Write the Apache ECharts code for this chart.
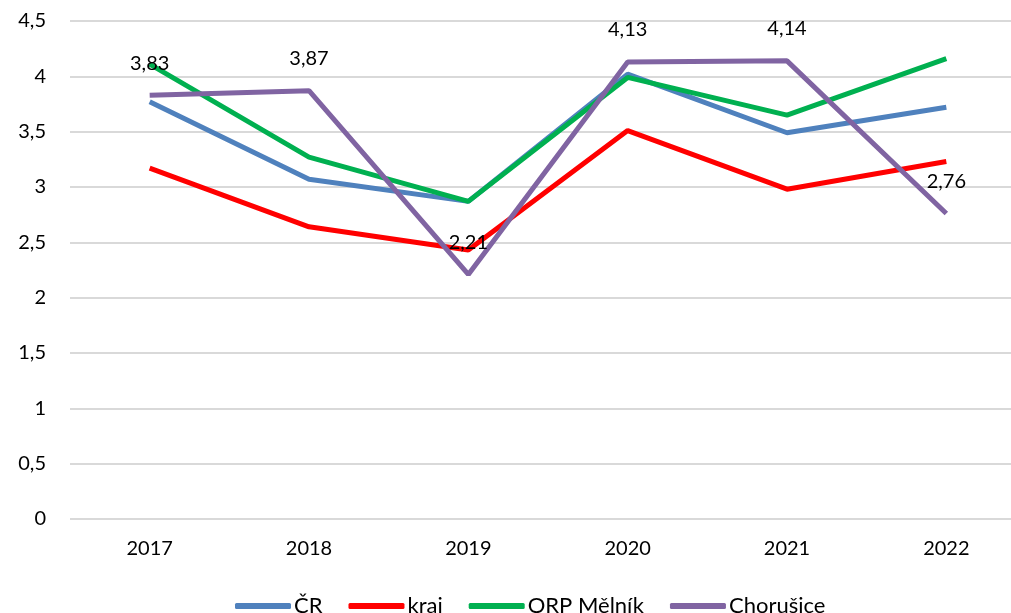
<!DOCTYPE html>
<html>
<head>
<meta charset="utf-8">
<script src="https://cdn.jsdelivr.net/npm/echarts@6/dist/echarts.min.js"></script>
<style>
  html, body { margin: 0; padding: 0; background: #fff; }
  #chart { width: 1011px; height: 613px; }
</style>
</head>
<body>
<div id="chart"></div>
<script>
const years = ['2017', '2018', '2019', '2020', '2021', '2022']
const cr = [3.77, 3.07, 2.87, 4.02, 3.49, 3.72]
const kraj = [3.17, 2.64, 2.43, 3.51, 2.98, 3.23]
const orpMelnik = [4.11, 3.27, 2.87, 3.99, 3.65, 4.16]
const chorusice = [3.83, 3.87, 2.21, 4.13, 4.14, 2.76]

const names = ['ČR', 'kraj', 'ORP Mělník', 'Chorušice']
const colors = ['#4F81BD', '#FF0000', '#00B050', '#8064A2']
const font = 'Lato, Liberation Sans, sans-serif'
const comma = v => String(v).replace('.', ',')

const chart = echarts.init(document.getElementById('chart'))

const series = [cr, kraj, orpMelnik, chorusice].map((data, index) => {
  const item = {
    name: names[index],
    type: 'line',
    data: data,
    symbol: 'none',
    animation: false,
    itemStyle: { color: colors[index] },
    lineStyle: { color: colors[index], width: 5 }
  }
  // only the municipality series has value labels (needs a symbol to carry them)
  if (index === 3) {
    item.symbol = 'circle'
    item.symbolSize = 0.1
    item.label = {
      show: true,
      position: 'top',
      distance: 22,
      color: '#000',
      fontFamily: font,
      fontSize: 20,
      formatter: p => comma(p.value)
    }
  }
  return item
})

chart.setOption({
  grid: {
    left: 70,
    top: 21,
    width: 956,
    height: 498,
    outerBoundsMode: 'none'
  },
  xAxis: {
    type: 'category',
    data: years,
    boundaryGap: true,
    axisLine: { show: false },
    axisTick: { show: false },
    axisLabel: {
      margin: 20,
      color: '#000',
      fontFamily: font,
      fontSize: 20
    }
  },
  yAxis: {
    type: 'value',
    min: 0,
    max: 4.5,
    interval: 0.5,
    axisLine: { show: false },
    axisTick: { show: false },
    splitLine: { lineStyle: { color: '#D9D9D9', width: 2 } },
    axisLabel: {
      margin: 24,
      color: '#000',
      fontFamily: font,
      fontSize: 20,
      formatter: v => comma(v)
    }
  },
  legend: {
    data: names,
    left: 230,
    top: 590,
    icon: 'roundRect',
    itemWidth: 56,
    itemHeight: 6,
    itemGap: 26,
    textStyle: {
      color: '#000',
      fontFamily: font,
      fontSize: 22,
      padding: [0, 0, 0, -2]
    }
  },
  series: series
})
</script>
</body>
</html>
